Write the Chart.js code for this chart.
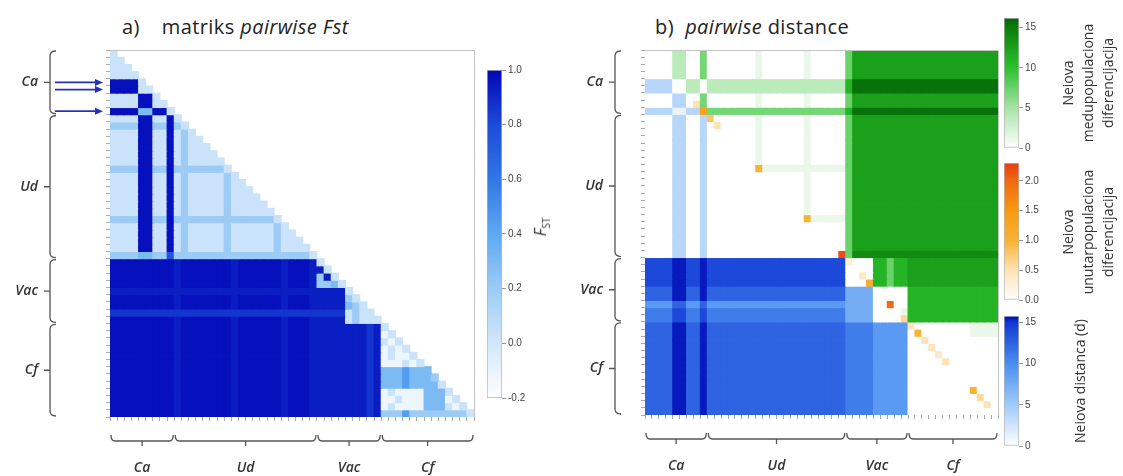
<!DOCTYPE html>
<html>
<head>
<meta charset="utf-8">
<script src="https://cdn.jsdelivr.net/npm/chart.js@4.4.0/dist/chart.umd.min.js"></script>
<style>
body { margin: 0; background: #fff; width: 1123px; height: 476px; position: relative; overflow: hidden; font-family: 'Open Sans', sans-serif; }
canvas { position: absolute; }
.title { position: absolute; font-size: 20px; line-height: 24px; letter-spacing: 0.4px; color: #222; white-space: nowrap; }
.cbtitle { position: absolute; font-size: 14px; line-height: 20px; color: #333; text-align: center; white-space: nowrap; transform: translate(-50%, -50%) rotate(-90deg); }
.fst { font-size: 16px; }
.fst sub { font-size: 10px; }
</style>
</head>
<body>
<div class="title" style="left:122px;top:15px">a)<span style="margin-left:22px">matriks</span> <i>pairwise Fst</i></div>
<div class="title" style="left:655px;top:15px">b)&nbsp;&nbsp;<i>pairwise</i> distance</div>

<canvas id="fst" style="left:0;top:0" width="480" height="476"></canvas>
<canvas id="fstBar" style="left:478px;top:60px" width="62" height="350"></canvas>
<canvas id="dist" style="left:560px;top:0" width="445" height="476"></canvas>
<canvas id="greenBar" style="left:995px;top:8px" width="60" height="150"></canvas>
<canvas id="orangeBar" style="left:995px;top:153px" width="60" height="157"></canvas>
<canvas id="blueBar" style="left:995px;top:306px" width="60" height="150"></canvas>

<div class="cbtitle fst" style="left:543px;top:227px"><i>F</i><sub>ST</sub></div>
<div class="cbtitle" style="left:1088px;top:83px">Neiova<br>medupopulaciona<br>diferencijacija</div>
<div class="cbtitle" style="left:1088px;top:232px">Neiova<br>unutarpopulaciona<br>diferencijacija</div>
<div class="cbtitle" style="left:1080px;top:381px">Neiova distanca (d)</div>

<script>
// groups of samples (rows = columns)
var groupNames = ["Ca", "Ud", "Vac", "Cf"];
var groupSizes = [9, 20, 9, 13];

// a) pairwise Fst, lower triangle, one char per cell (code -> fstLevels)
var fstLevels = [-0.12, 0.03, 0.2, 0.3, 0.45, 0.75, 0.86, 0.93, 0.97];
var fstRows = [
  "1",
  "11",
  "111",
  "1111",
  "88881",
  "888811",
  "1111881",
  "11118811",
  "888833881",
  "111188118 1",
  "222288228 21",
  "111188118 121",
  "111188118 1211",
  "111188118 12111",
  "111188118 121111",
  "111188118 1211111",
  "222288228 22222221",
  "111188118 121111121",
  "111188118 1211111211",
  "111188118 12111112111",
  "111188118 121111121111",
  "111188118 1211111211111",
  "111188118 12111112111111",
  "222288228 222222222222221",
  "111188118 1211111211111121",
  "111188118 12111112111111211",
  "111188118 121111121111112111",
  "111188118 1211111211111121111",
  "222233225 22222222222222222221",
  "888888888 78888888788888878887 1",
  "888888888 78888888788888878887 71",
  "888888888 78888888788888878887 271",
  "888888888 78888888788888878887 2231",
  "777777777 77777777777777777777 77771",
  "888888888 78888888788888878887 777721",
  "888888888 78888888788888878887 7777321",
  "666666666 66666666666666666666 66661211",
  "888888888 78888888788888878887 777712111",
  "888888888 78888888788888878887 777777767 1",
  "888888888 78888888788888878887 777777767 01",
  "888888888 78888888788888878887 777777767 101",
  "888888888 78888888788888878887 777777767 0101",
  "888888888 78888888788888878887 777777767 01001",
  "888888888 78888888788888878887 777777767 000101",
  "888888888 78888888788888878887 777777767 3334333",
  "888888888 78888888788888878887 777777767 33343332",
  "888888888 78888888788888878887 777777767 333433331",
  "888888888 78888888788888878887 777777767 0100003331",
  "888888888 78888888788888878887 777777767 00100033301",
  "888888888 78888888788888878887 777777767 010000333101",
  "888888888 78888888788888878887 777777767 2224222222221"
];

// b) pairwise distance: above diagonal = interpopulation (green), below = distance d (blue)
var distCodes = "0123456789a";
var distLevels = [0, 1.2, 2.5, 3.8, 7, 7.5, 9, 11, 12.5, 14, 15.5];
var distRows = [
  "x00033004 00000001000000100000 588888888 8888888888888",
  "0x0033004 00000001000000100000 588888888 8888888888888",
  "00x033004 00000001000000100000 588888888 8888888888888",
  "000x33004 00000001000000100000 588888888 8888888888888",
  "3333x0330 33333333333333333333 7aaaaaaaa aaaaaaaaaaaaa",
  "33330x330 33333333333333333333 7aaaaaaaa aaaaaaaaaaaaa",
  "000033x04 00000001000000100000 588888888 8888888888888",
  "0000330x4 00000001000000100000 588888888 8888888888888",
  "33331133x 44444444444444444444 7aaaaaaaa aaaaaaaaaaaaa",
  "000033003 x0000001000000100000 588888888 8888888888888",
  "000033003 0x000001000000100000 588888888 8888888888888",
  "000033003 00x00001000000100000 588888888 8888888888888",
  "000033003 000x0001000000100000 588888888 8888888888888",
  "000033003 0000x001000000100000 588888888 8888888888888",
  "000033003 00000x01000000100000 588888888 8888888888888",
  "000033003 000000x1000000100000 588888888 8888888888888",
  "000033003 0000000x111111111111 588888888 8888888888888",
  "000033003 00000000x00000100000 588888888 8888888888888",
  "000033003 000000000x0000100000 588888888 8888888888888",
  "000033003 0000000000x000100000 588888888 8888888888888",
  "000033003 00000000000x00100000 588888888 8888888888888",
  "000033003 000000000000x0100000 588888888 8888888888888",
  "000033003 0000000000000x100000 588888888 8888888888888",
  "000033003 00000000000000x11111 588888888 8888888888888",
  "000033003 000000000000000x0000 588888888 8888888888888",
  "000033003 0000000000000000x000 588888888 8888888888888",
  "000033003 00000000000000000x00 588888888 8888888888888",
  "000033003 000000000000000000x0 588888888 8888888888888",
  "000033003 0000000000000000000x 599999999 9999999999999",
  "9999aa99a 99999999999999999999 x00077577 8888888888888",
  "9999aa99a 99999999999999999999 0x0077577 8888888888888",
  "9999aa99a 99999999999999999999 00x077577 8888888888888",
  "9999aa99a 99999999999999999999 000x77577 8888888888888",
  "8888aa88a 88888888888888888888 5555x0000 7777777777777",
  "8888aa88a 88888888888888888888 55550x000 7777777777777",
  "666688668 66666666666666666666 555500x00 7777777777777",
  "777799779 77777777777777777777 5555000x1 7777777777777",
  "777799779 77777777777777777777 55550000x 7777777777777",
  "8888aa88a 88888888888888888888 777766666 x000000001111",
  "8888aa88a 88888888888888888888 777766666 0x00000001111",
  "8888aa88a 88888888888888888888 777766666 00x0000000000",
  "8888aa88a 88888888888888888888 777766666 000x000000000",
  "8888aa88a 88888888888888888888 777766666 0000x00000000",
  "8888aa88a 88888888888888888888 777766666 00000x0000000",
  "8888aa88a 88888888888888888888 777766666 000000x000000",
  "8888aa88a 88888888888888888888 777766666 0000000x00000",
  "8888aa88a 88888888888888888888 777766666 00000000x0000",
  "8888aa88a 88888888888888888888 777766666 000000000x000",
  "8888aa88a 88888888888888888888 777766666 0000000000x00",
  "8888aa88a 88888888888888888888 777766666 00000000000x0",
  "8888aa88a 88888888888888888888 777766666 000000000000x"
];
// diagonal = intrapopulation differentiation (orange)
var diagValues = [0, 0, 0, 0, 0, 0, 0, 0.5, 1.3, 0.8,
  0.5, 0, 0, 0, 0, 0, 1.0, 0, 0, 0,
  0, 0, 0, 1.0, 0, 0, 0, 0, 2.2,
  0.3, 0, 0.4, 1.1, 0, 0, 2.0, 0, 0.6,
  0.5, 1.0, 0.5, 0.45, 0.4, 0.5, 0, 0, 0, 1.0, 0.6, 0.5, 0];

// colour bar ticks
var fstTicks = [-0.2, 0, 0.2, 0.4, 0.6, 0.8, 1.0];
var greenTicks = [0, 5, 10, 15];
var orangeTicks = [0, 0.5, 1.0, 1.5, 2.0];
var blueTicks = [0, 5, 10, 15];

// colour maps
var fstStops = [[-0.2, '#ffffff'], [0.0, '#d2e7fb'], [0.2, '#9ccbf6'], [0.4, '#5ca9f2'], [0.6, '#3177e6'], [0.8, '#1d4ad8'], [1.0, '#0206b8']];
var greenStops = [[0, '#ffffff'], [5, '#a6e3a6'], [10, '#2cc22c'], [15, '#0a7d0a'], [16.2, '#05620a']];
var orangeStops = [[0, '#ffffff'], [0.5, '#fde3b5'], [1.0, '#f9b233'], [1.5, '#f79a12'], [2.0, '#f06a10'], [2.3, '#e53e10']];
var blueStops = [[0, '#ffffff'], [5, '#9fcbf8'], [10, '#4a8ef0'], [15, '#1238d4'], [15.8, '#0008b0']];

var nSamples = groupSizes.reduce(function (a, b) { return a + b; }, 0);
var sampleLabels = [];
groupNames.forEach(function (g, k) {
  for (var i = 1; i <= groupSizes[k]; i++) sampleLabels.push(g + i);
});

function hexRgb(h) {
  return [parseInt(h.substr(1, 2), 16), parseInt(h.substr(3, 2), 16), parseInt(h.substr(5, 2), 16)];
}

function colorAt(stops, v) {
  if (v <= stops[0][0]) return stops[0][1];
  for (var k = 1; k < stops.length; k++) {
    if (v <= stops[k][0]) {
      var t = (v - stops[k - 1][0]) / (stops[k][0] - stops[k - 1][0]);
      var a = hexRgb(stops[k - 1][1]), b = hexRgb(stops[k][1]);
      return 'rgb(' + Math.round(a[0] + (b[0] - a[0]) * t) + ',' + Math.round(a[1] + (b[1] - a[1]) * t) + ',' + Math.round(a[2] + (b[2] - a[2]) * t) + ')';
    }
  }
  return stops[stops.length - 1][1];
}

// one floating-bar dataset per matrix row
function matrixDatasets(cellColor) {
  var sets = [];
  for (var i = 0; i < nSamples; i++) {
    var data = [], colors = [];
    for (var j = 0; j < nSamples; j++) {
      var c = cellColor(i, j);
      data.push(c ? [i, i + 1] : null);
      colors.push(c || 'rgba(0,0,0,0)');
    }
    sets.push({ data: data, backgroundColor: colors, borderWidth: 0, barPercentage: 1, categoryPercentage: 1, grouped: false, inflateAmount: 0.5 });
  }
  return sets;
}

function fstColor(i, j) {
  var row = fstRows[i].replace(/ /g, '');
  if (j >= row.length) return null;
  return colorAt(fstStops, fstLevels[+row[j]]);
}

function distColor(i, j) {
  var row = distRows[i].replace(/ /g, '');
  if (i === j) return colorAt(orangeStops, diagValues[i]);
  var v = distLevels[distCodes.indexOf(row[j])] || 0;
  return i < j ? colorAt(greenStops, v) : colorAt(blueStops, v);
}

// brackets with group names, arrows, frame
var bracketPlugin = {
  id: 'brackets',
  afterDraw: function (chart, args, opts) {
    var ctx = chart.ctx, area = chart.chartArea;
    var xs = chart.scales.x, ys = chart.scales.y;
    var half = (xs.getPixelForValue(1) - xs.getPixelForValue(0)) / 2;
    ctx.save();
    ctx.strokeStyle = '#c4c4c4';
    ctx.lineWidth = 1;
    ctx.beginPath();
    ctx.moveTo(area.left, area.top + 0.5);
    ctx.lineTo(area.right + 0.5, area.top + 0.5);
    ctx.lineTo(area.right + 0.5, area.bottom);
    ctx.stroke();

    ctx.strokeStyle = '#555';
    ctx.lineWidth = 1.3;
    ctx.fillStyle = '#333';
    ctx.font = "italic 600 14px 'Open Sans'";
    var start = 0;
    groupSizes.forEach(function (size, g) {
      var a = start, b = start + size;
      start = b;
      // left bracket
      var bx = area.left - opts.leftGap;
      var y1 = ys.getPixelForValue(a) + 1, y2 = ys.getPixelForValue(b) - 1, ym = (y1 + y2) / 2;
      ctx.beginPath();
      ctx.moveTo(bx + 6, y1);
      ctx.quadraticCurveTo(bx, y1, bx, y1 + 5);
      ctx.lineTo(bx, y2 - 5);
      ctx.quadraticCurveTo(bx, y2, bx + 6, y2);
      ctx.moveTo(bx, ym);
      ctx.lineTo(bx - 6, ym);
      ctx.stroke();
      ctx.textAlign = 'right';
      ctx.textBaseline = 'middle';
      ctx.fillText(groupNames[g], bx - 12, ym);
      // bottom bracket
      var by = area.bottom + 24;
      var x1 = xs.getPixelForValue(a) - half + 1, x2 = xs.getPixelForValue(b - 1) + half - 1, xm = (x1 + x2) / 2;
      ctx.beginPath();
      ctx.moveTo(x1, by - 6);
      ctx.quadraticCurveTo(x1, by, x1 + 4, by);
      ctx.lineTo(x2 - 4, by);
      ctx.quadraticCurveTo(x2, by, x2, by - 6);
      ctx.moveTo(xm, by);
      ctx.lineTo(xm, by + 5);
      ctx.stroke();
      ctx.textAlign = 'center';
      ctx.fillText(groupNames[g], xm, by + 27);
    });

    (opts.arrows || []).forEach(function (r) {
      var y = ys.getPixelForValue(r + 0.5);
      var x0 = area.left - 55, x1 = area.left - 7;
      ctx.strokeStyle = '#2330b8';
      ctx.fillStyle = '#2330b8';
      ctx.lineWidth = 1.6;
      ctx.beginPath();
      ctx.moveTo(x0, y);
      ctx.lineTo(x1 - 6, y);
      ctx.stroke();
      ctx.beginPath();
      ctx.moveTo(x1, y);
      ctx.lineTo(x1 - 8, y - 3.5);
      ctx.lineTo(x1 - 8, y + 3.5);
      ctx.closePath();
      ctx.fill();
    });
    ctx.restore();
  }
};

function matrixScales() {
  return {
    x: {
      type: 'category', position: 'bottom',
      border: { display: false },
      grid: { drawOnChartArea: false, tickLength: 4, color: '#aaa' },
      ticks: { display: false },
      afterFit: function (s) { s.height = 8; }
    },
    y: {
      type: 'linear', position: 'left', reverse: true, min: 0, max: nSamples,
      border: { display: false },
      grid: { drawOnChartArea: false, tickLength: 4, color: '#aaa' },
      ticks: { display: false, stepSize: 1 },
      afterFit: function (s) { s.width = 8; }
    }
  };
}

new Chart(document.getElementById('fst'), {
  type: 'bar',
  data: { labels: sampleLabels, datasets: matrixDatasets(fstColor) },
  options: {
    responsive: false, animation: false,
    layout: { padding: { left: 102, right: 6, top: 50, bottom: 51 } },
    plugins: { legend: { display: false }, tooltip: { enabled: false }, brackets: { leftGap: 60, arrows: [4, 5, 8] } },
    scales: matrixScales()
  },
  plugins: [bracketPlugin]
});

new Chart(document.getElementById('dist'), {
  type: 'bar',
  data: { labels: sampleLabels, datasets: matrixDatasets(distColor) },
  options: {
    responsive: false, animation: false,
    layout: { padding: { left: 77, right: 7, top: 50, bottom: 53 } },
    plugins: { legend: { display: false }, tooltip: { enabled: false }, brackets: { leftGap: 30 } },
    scales: matrixScales()
  },
  plugins: [bracketPlugin]
});

function barGradient(chart, stops, min, max) {
  var ys = chart.scales.y;
  if (!ys || !chart.chartArea) return stops[0][1];
  var g = chart.ctx.createLinearGradient(0, ys.getPixelForValue(min), 0, ys.getPixelForValue(max));
  stops.forEach(function (s) {
    g.addColorStop(Math.max(0, Math.min(1, (s[0] - min) / (max - min))), s[1]);
  });
  return g;
}

function colorbar(id, stops, ticks, min, max, digits) {
  new Chart(document.getElementById(id), {
    type: 'bar',
    data: {
      labels: [''],
      datasets: [{
        data: [[min, max]],
        backgroundColor: function (c) { return barGradient(c.chart, stops, min, max); },
        borderColor: '#b4b4b4', borderWidth: 1, borderSkipped: false,
        barPercentage: 1, categoryPercentage: 1
      }]
    },
    options: {
      responsive: false, animation: false,
      layout: { padding: { left: 9, top: 10, bottom: id === 'fstBar' ? 12 : 10, right: 0 } },
      plugins: { legend: { display: false }, tooltip: { enabled: false } },
      scales: {
        x: { display: false },
        y: {
          position: 'right', min: min, max: max,
          border: { display: false },
          grid: { drawOnChartArea: false, tickLength: 4, color: '#999' },
          afterBuildTicks: function (s) { s.ticks = ticks.map(function (v) { return { value: v }; }); },
          afterFit: function (s) { s.width = id === 'fstBar' ? 38 : 36; },
          ticks: { padding: 2, color: '#444', font: { size: 10, family: 'Liberation Sans' }, callback: function (v) { return Number(v).toFixed(digits); } }
        }
      }
    }
  });
}

colorbar('fstBar', fstStops, fstTicks, -0.2, 1.0, 1);
colorbar('greenBar', greenStops, greenTicks, 0, 16.2, 0);
colorbar('orangeBar', orangeStops, orangeTicks, 0, 2.3, 1);
colorbar('blueBar', blueStops, blueTicks, 0, 15.8, 0);
</script>
</body>
</html>
